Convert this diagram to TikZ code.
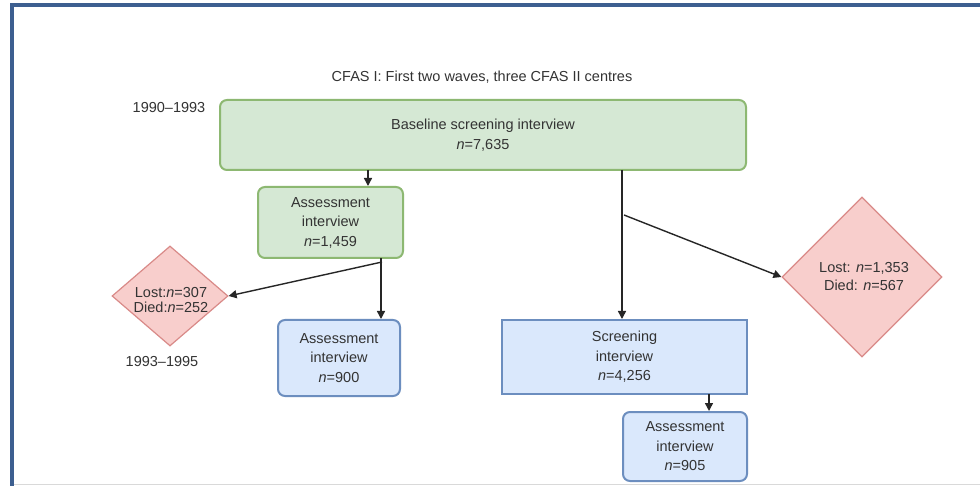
\documentclass[tikz,border=0pt]{standalone}
\usepackage{fontspec}
\setmainfont{Liberation Sans}
\usetikzlibrary{shapes.geometric,arrows.meta}
\definecolor{frameblue}{HTML}{3D5F90}
\definecolor{gfill}{HTML}{D5E8D4}
\definecolor{gline}{HTML}{8DB872}
\definecolor{bfill}{HTML}{DAE8FC}
\definecolor{bline}{HTML}{6C8EBF}
\definecolor{rfill}{HTML}{F8CECC}
\definecolor{rline}{HTML}{D98A88}
\definecolor{txt}{HTML}{333333}
\tikzset{
  lbl/.style={font=\fontsize{14.5}{19.5}\selectfont, text=txt, align=center},
  greenbox/.style={lbl, draw=gline, fill=gfill, line width=2pt, rounded corners=7pt, inner sep=0pt},
  bluebox/.style={lbl, draw=bline, fill=bfill, line width=2pt, rounded corners=7pt, inner sep=0pt},
  bluerect/.style={lbl, draw=bline, fill=bfill, line width=2pt, inner sep=0pt},
  lossbox/.style={lbl, draw=rline, fill=rfill, line width=1.2pt, diamond, inner sep=0pt},
  flow/.style={draw=black!85, line width=1.4pt, -{Triangle[length=8pt,width=8pt]}},
}
\begin{document}
\begin{tikzpicture}[x=1pt,y=-1pt]
\useasboundingbox (0,0) rectangle (980,486);
\fill[white] (0,0) rectangle (980,486);
% page frame
\draw[black!15, line width=1pt] (14,484) -- (980,484);
\draw[frameblue, line width=4.5pt] (12,486) -- (12,5) -- (980,5);

% title and period labels
\node[lbl] (title) at (482,77) {CFAS I: First two waves, three CFAS II centres};
\node[lbl] (p1) at (169,108) {1990--1993};
\node[lbl] (p2) at (162,362) {1993--1995};

% boxes
\node[greenbox, minimum width=526pt, minimum height=70pt] (base) at (483,135)
  {Baseline screening interview\\\textit{n}=7,635};
\node[greenbox, minimum width=145pt, minimum height=71pt] (assA) at (330.5,222.5)
  {Assessment\\interview\\\textit{n}=1,459};
\node[bluebox, minimum width=122pt, minimum height=76pt] (assB) at (339,358)
  {Assessment\\interview\\\textit{n}=900};
\node[bluerect, minimum width=245pt, minimum height=74pt] (scr) at (624.5,357)
  {Screening\\interview\\\textit{n}=4,256};
\node[bluebox, minimum width=124pt, minimum height=69pt] (assC) at (685,446.5)
  {Assessment\\interview\\\textit{n}=905};

% loss diamonds
\node[lossbox, minimum width=116pt, minimum height=100pt] (lossA) at (170,296) {};
\node[lbl, font=\fontsize{14.5}{15}\selectfont] (lossAtxt) at (171,300)
  {Lost:\textit{n}=307\\Died:\textit{n}=252};
\node[lossbox, minimum width=160pt, minimum height=160pt] (lossB) at (862,277) {};
\node[lbl, font=\fontsize{14.5}{18}\selectfont] (lossBtxt) at (864,277)
  {Lost: \textit{n}=1,353\\Died: \textit{n}=567};

% connectors
\coordinate (b1) at (368,170);
\draw[flow] (b1) -- (assA.north -| b1);
\coordinate (a1) at (381,258);
\draw[flow] (a1) -- (assB.north -| a1);
\coordinate (a2) at (382,262);
\draw[flow] (a2) -- (lossA.east);
\coordinate (b2) at (622,170);
\draw[flow] (b2) -- (scr.north -| b2);
\coordinate (b3) at (624,215);
\draw[flow] (b3) -- (lossB.west);
\coordinate (s1) at (709,394);
\draw[flow] (s1) -- (assC.north -| s1);
\end{tikzpicture}
\end{document}
